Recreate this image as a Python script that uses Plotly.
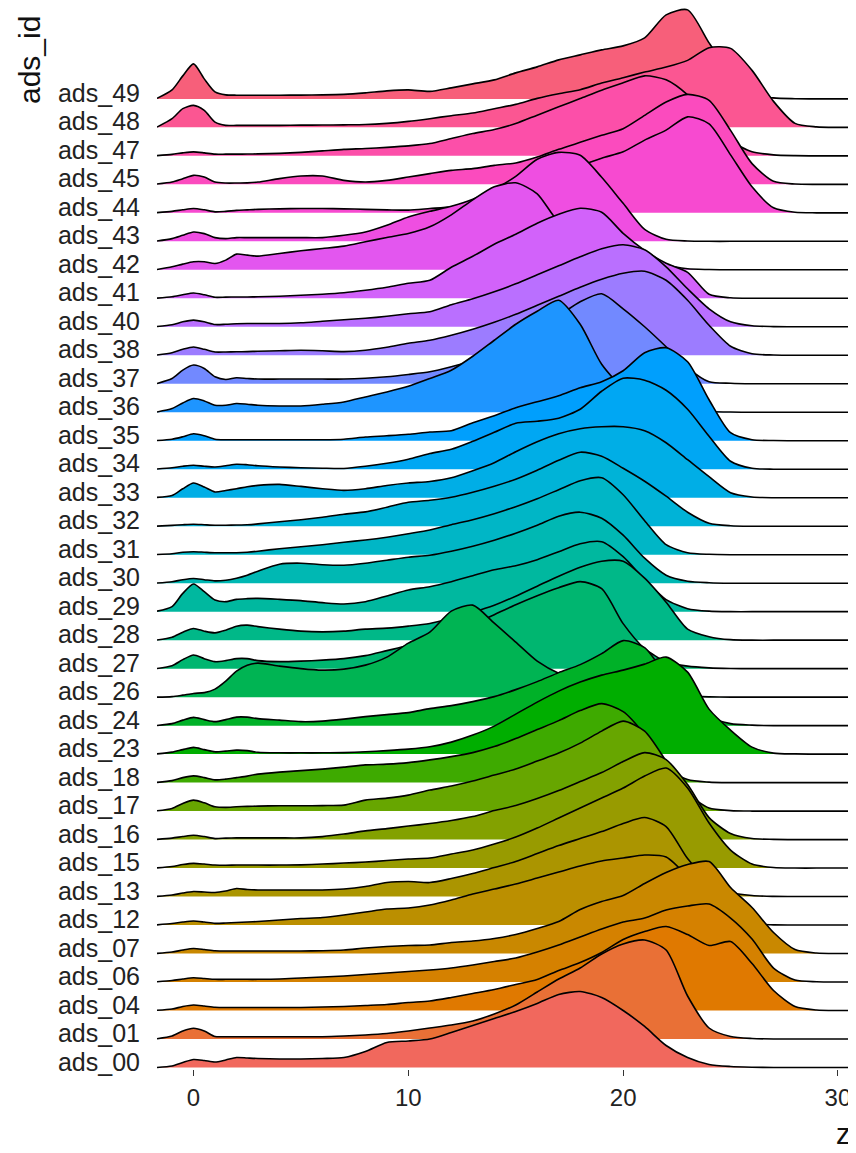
import math
import plotly.graph_objects as go

Z_GRID = [-1.7, -1, -0.5, 0, 0.5, 1, 1.5, 2, 2.5, 3,
          4, 5, 6, 7, 8, 9, 10, 11,
          12, 13, 14, 15, 16, 17, 18, 19, 20, 21, 22, 23, 24, 25, 26, 27, 28, 29, 30, 30.7]

CATEGORIES = ["ads_00", "ads_01", "ads_04", "ads_06", "ads_07", "ads_12", "ads_13", "ads_15",
              "ads_16", "ads_17", "ads_18", "ads_23", "ads_24", "ads_26", "ads_27", "ads_28",
              "ads_29", "ads_30", "ads_31", "ads_32", "ads_33", "ads_34", "ads_35", "ads_36",
              "ads_37", "ads_38", "ads_40", "ads_41", "ads_42", "ads_43", "ads_44", "ads_45",
              "ads_47", "ads_48", "ads_49"]

X_TICKS = [0, 10, 20, 30]

# ridge heights (density, scaled units) at Z_GRID
ADS_00 = [0, 1.5, 5, 8, 7, 5.5, 7.5, 10, 9.5, 9,
          8.5, 8.5, 9, 10, 16, 25, 26.5, 28.5,
          35, 42, 49, 56, 64, 73, 76, 70, 57, 41, 22, 10, 3, 1, 0.3, 0, 0, 0, 0, 0]
ADS_01 = [0.3, 3, 8, 10.7, 8, 2.5, 2.3, 2.3, 2.3, 2.3,
          2.3, 2.3, 2.3, 3, 4, 5.5, 8, 11,
          14, 18, 25, 34, 47, 60, 71, 85, 95, 99, 89, 43, 11, 2.5, 0.5, 0, 0, 0, 0, 0]
ADS_04 = [0.2, 1.5, 4, 5.5, 4.5, 3.3, 3, 3, 3, 3,
          3, 3, 3.5, 4, 5, 6, 8, 9.5,
          13, 17, 21, 26, 31, 40, 48, 58, 71, 79, 84, 76, 65, 69, 47, 20, 4, 0.5, 0, 0]
ADS_06 = [0.2, 1.5, 3, 4.3, 3.5, 2.7, 2.7, 2.7, 2.7, 2.7,
          3, 4, 5, 6, 7.5, 9, 10.5, 12,
          14, 17, 20.5, 24, 30, 37, 45, 53, 60, 64, 72, 76, 78, 64, 43, 14, 2, 0.3, 0, 0]
ADS_07 = [0.2, 1.5, 3.5, 5, 4, 2.8, 2.5, 2.5, 2.5, 2.5,
          2.5, 2.5, 2.8, 3.5, 5.5, 7, 8, 8.5,
          11, 12.5, 15, 19, 25, 32, 44, 52, 58, 70, 81, 89, 92, 66, 46, 21, 4, 0.5, 0, 0]
ADS_12 = [0.2, 1.5, 3, 4, 3, 1.7, 2, 2.5, 3, 3.5,
          5, 6.5, 7.5, 10, 13, 16, 17, 20,
          25, 31, 36, 41, 47, 53, 59, 64, 67, 70, 68, 48, 20, 5, 1, 0.2, 0, 0, 0, 0]
ADS_13 = [0.2, 1.5, 3.5, 5, 4.5, 4, 5.5, 8, 7, 6.6,
          6.6, 6.6, 6.6, 7.5, 10, 14, 15, 14,
          18, 23, 29, 35, 43, 51, 58, 65, 73, 79, 70, 38, 15, 4, 1, 0.2, 0, 0, 0, 0]
ADS_15 = [0.2, 1.5, 3.5, 4.7, 4, 3, 2.8, 3, 3, 3,
          3, 3.2, 4, 5, 6, 7.5, 9, 10,
          14, 18, 24, 31, 40, 50, 60, 70, 80, 92, 100, 80, 45, 18, 4, 0.5, 0, 0, 0, 0]
ADS_16 = [0.2, 1.5, 3, 4.3, 3, 1, 1.5, 1.7, 1.7, 1.7,
          1.7, 1.7, 3, 5.5, 8.7, 11, 13.5, 16,
          19, 23, 29, 34, 41, 49, 58, 67, 78, 87, 80, 55, 22, 6, 1, 0.2, 0, 0, 0, 0]
ADS_17 = [0.3, 2.7, 7.7, 11, 8.3, 4.3, 3.7, 4.3, 4.7, 5,
          5.3, 5.3, 5.5, 6, 11, 13, 16, 21,
          25, 30, 36, 42, 50, 58, 68, 80, 90, 80, 50, 18, 3, 0.5, 0, 0, 0, 0, 0, 0]
ADS_18 = [0.2, 2, 5, 6.7, 5, 2.7, 3.5, 5, 6.5, 8.5,
          10.5, 12, 13.5, 15.5, 17.7, 18.5, 20, 22.7,
          26, 30, 36, 44, 53, 62, 72, 79, 71, 48, 16, 3, 0.5, 0, 0, 0, 0, 0, 0, 0]
ADS_23 = [0.2, 2, 4.5, 6.7, 4.5, 2.3, 3, 4, 3.5, 1.8,
          1.3, 1.3, 1.3, 1.5, 2.3, 3.5, 5, 7.3,
          12, 19, 28, 40, 52, 63, 72, 79, 84, 90, 97, 82, 45, 24, 7, 1, 0.2, 0, 0, 0]
ADS_24 = [0.2, 2, 5.5, 8.3, 6, 4, 6, 8.5, 8.5, 7,
          5.5, 4, 4.5, 6.5, 9, 11, 13, 17,
          20, 24, 29, 36, 44, 53, 61, 72, 85, 78, 50, 25, 9, 2, 0.5, 0, 0, 0, 0, 0]
ADS_26 = [0, 0.5, 2, 3.7, 4.5, 8, 16, 26, 32, 34,
          31, 28.5, 27, 28, 32, 40, 54, 65,
          86, 92, 74, 55, 36, 24, 18, 14, 10, 6, 3, 1, 0.3, 0, 0, 0, 0, 0, 0, 0]
ADS_27 = [0.2, 3, 9, 13.7, 10, 7, 8, 10, 10, 8,
          7, 7.5, 8.5, 10, 13, 18, 23, 27,
          35, 44, 54, 64, 73, 81, 87, 80, 45, 20, 7, 2.5, 0.8, 0.2, 0, 0, 0, 0, 0, 0]
ADS_28 = [0.2, 3, 8, 11.7, 9, 7.3, 10, 14, 15, 13.5,
          11, 9, 8.3, 9, 11, 12, 14, 16.7,
          22, 28, 35, 44, 54, 64, 73, 79, 79, 62, 38, 11, 3.5, 0.5, 0, 0, 0, 0, 0, 0]
ADS_29 = [0.5, 5, 18.3, 27.7, 20, 11.7, 10, 12.3, 13, 13.3,
          12.3, 11, 9, 7.7, 10, 15.7, 21.7, 25,
          30, 36, 42, 46, 52, 60, 68, 70, 55, 32, 12, 3, 0.5, 0, 0, 0, 0, 0, 0, 0]
ADS_30 = [0.2, 1.5, 3.5, 4.7, 3.5, 2.3, 3, 5, 8, 12,
          19, 20, 18.5, 18, 20, 23, 26, 28,
          32, 37, 43, 50, 58, 67, 71, 65, 48, 25, 8, 2, 0.5, 0, 0, 0, 0, 0, 0, 0]
ADS_31 = [0.2, 1, 2.5, 3, 2.5, 2, 2, 2, 2.5, 3.5,
          6, 8, 10, 12.5, 14.7, 17.5, 21, 24.7,
          30, 35, 41, 48, 56, 65, 74, 77, 60, 34, 10, 2, 0.4, 0, 0, 0, 0, 0, 0, 0]
ADS_32 = [0.1, 0.8, 1.5, 2, 1.5, 1, 1, 1.2, 1.5, 2.3,
          4.5, 6.5, 9, 12, 14.3, 19, 24, 26,
          29, 34, 40, 47, 56, 66, 74, 70, 58, 45, 30, 14, 3, 0.5, 0, 0, 0, 0, 0, 0]
ADS_33 = [0.3, 2.3, 9, 14.7, 10.7, 5.7, 7.3, 9, 11, 12.3,
          13.3, 11.3, 9, 7.3, 9, 12.3, 14.7, 16.3,
          20, 27, 35, 46, 56, 64, 69, 71, 71, 67, 55, 38, 21, 5, 0.8, 0, 0, 0, 0, 0]
ADS_34 = [0.2, 1.5, 3, 4, 3, 2.3, 3.5, 5, 4.5, 3.5,
          2.3, 1.5, 1, 0.8, 3, 6, 10, 15.7,
          20, 28, 37, 46, 48, 51, 60, 78, 91, 89, 79, 60, 33, 8, 1, 0, 0, 0, 0, 0]
ADS_35 = [0.2, 1.5, 4, 7, 5, 1.5, 1, 1, 1, 1,
          1, 1, 1, 1.5, 3.7, 5, 6.5, 8.7,
          10, 18, 25, 33, 39, 45, 53, 59, 70, 88, 93, 79, 41, 8, 1, 0.2, 0, 0, 0, 0]
ADS_36 = [0.3, 3.7, 9.3, 13.7, 11.3, 7, 7, 8.7, 8, 7,
          6.3, 6.3, 8, 10.3, 15.3, 20.3, 26, 33.7,
          42, 56, 72, 88, 101, 112, 88, 48, 24, 12, 6, 2.5, 0.8, 0.2, 0, 0, 0, 0, 0, 0]
ADS_37 = [0.3, 5.3, 13.7, 18.7, 15.3, 7, 4.3, 6, 5.3, 4.7,
          4.7, 4.7, 4.7, 4.7, 5.5, 7, 9.3, 12,
          17, 23, 32, 42, 55, 68, 82, 90, 75, 57, 37, 16, 2, 0.5, 0, 0, 0, 0, 0, 0]
ADS_38 = [0.3, 2.5, 6, 8.3, 6, 3.3, 3.3, 3.5, 3.7, 4,
          4.5, 5, 4.5, 3.7, 5, 8, 12, 15,
          20, 26, 33, 41, 50, 59, 68, 76, 82, 84, 75, 55, 30, 9, 1.5, 0.3, 0, 0, 0, 0]
ADS_40 = [0.3, 2, 5, 6.7, 5, 2.3, 2.5, 3, 3.3, 3.3,
          3.3, 4, 5.5, 7, 8.5, 10.5, 13, 15,
          22, 28, 35, 43, 52, 61, 70, 78, 82, 77, 60, 38, 18, 5, 1, 0.2, 0, 0, 0, 0]
ADS_41 = [0.2, 1.5, 3.5, 5.3, 3.5, 1, 1.2, 1.3, 1.3, 1.5,
          2, 3, 4, 5.5, 8, 11, 15, 18,
          31, 42, 54, 64, 75, 84, 90, 86, 65, 48, 35, 26, 4, 0.5, 0, 0, 0, 0, 0, 0]
ADS_42 = [0.3, 3, 5.7, 8, 8, 6.3, 9.7, 15.7, 14.7, 13.7,
          16.3, 19, 21.3, 23.7, 28, 32.3, 36.3, 43,
          55, 70, 83, 87, 76, 48, 40, 33, 26, 14, 5, 1, 0.3, 0, 0, 0, 0, 0, 0, 0]
ADS_43 = [0.3, 2.7, 6, 9.3, 7.7, 3.7, 2.7, 3.7, 3.7, 3.7,
          3.7, 3.7, 3.7, 6, 9.3, 16, 24.3, 30,
          35, 42, 52, 65, 82, 89, 86, 64, 38, 12, 2, 0.3, 0, 0, 0, 0, 0, 0, 0, 0]
ADS_44 = [0.2, 1.5, 3, 4.3, 3, 1, 1.5, 2.5, 3, 3.5,
          4, 4.3, 4.3, 4, 3.5, 3, 2.7, 4.3,
          6, 9, 14, 20, 28, 38, 47, 54.7, 61, 72.7, 82.7, 96, 89, 58, 26, 5, 0.5, 0, 0, 0]
ADS_45 = [0.3, 2.3, 5.7, 9, 7.3, 2.3, 1.3, 1.3, 1.5, 2.3,
          5.7, 8.3, 8.3, 4, 2.3, 4, 7.3, 10.7,
          14, 15.7, 19, 21.3, 27.3, 35, 42, 49, 55.7, 69, 82.3, 90, 84, 54, 20.7, 3, 0.3, 0, 0, 0]
ADS_47 = [0.2, 1.5, 3, 4, 3, 1.7, 1.7, 1.7, 1.8, 2,
          2.5, 3.5, 5, 6.5, 7.3, 8.5, 10, 12.3,
          17.3, 22.3, 26.3, 32.3, 40.7, 49, 57.3, 65.7, 73, 80, 76, 61, 38, 15, 4, 1, 0.2, 0, 0, 0]
ADS_48 = [0.3, 8.7, 18.7, 22, 17, 5.3, 2, 2, 2, 2,
          2, 2.2, 2.3, 2.5, 2.8, 4, 6, 8.7,
          11.7, 14.3, 18.7, 23, 29, 33.7, 37.7, 44.3, 49.7, 55.3, 60.3, 67, 79.7, 79, 57, 26, 4, 0.5, 0, 0]
ADS_49 = [0.5, 9, 23, 35, 20, 7, 4, 3.7, 3.7, 3.7,
          3.7, 3.8, 4, 4.5, 6, 8, 9, 7.5,
          11, 15, 19, 26, 32, 39, 44, 49, 53, 61, 84, 89, 56, 26, 5, 1, 0.2, 0, 0, 0]

DENSITIES = [ADS_00, ADS_01, ADS_04, ADS_06, ADS_07, ADS_12, ADS_13, ADS_15, ADS_16, ADS_17,
             ADS_18, ADS_23, ADS_24, ADS_26, ADS_27, ADS_28, ADS_29, ADS_30, ADS_31, ADS_32,
             ADS_33, ADS_34, ADS_35, ADS_36, ADS_37, ADS_38, ADS_40, ADS_41, ADS_42, ADS_43,
             ADS_44, ADS_45, ADS_47, ADS_48, ADS_49]

HEIGHT_PER_ROW = 28.49  # density units per one row of spacing


def hcl_hex(h, c=100.0, l=65.0):
    """hue palette colour (polar LUV -> sRGB)."""
    hr = math.radians(h)
    U, V = c * math.cos(hr), c * math.sin(hr)
    Xn, Yn, Zn = 95.047, 100.0, 108.883
    Y = Yn * ((l + 16) / 116) ** 3 if l > 8 else Yn * l / 903.3
    den = Xn + 15 * Yn + 3 * Zn
    un, vn = 4 * Xn / den, 9 * Yn / den
    u = U / (13 * l) + un
    v = V / (13 * l) + vn
    X = 9.0 * Y * u / (4 * v)
    Z = -X / 3 - 5 * Y + 3 * Y / v
    x, y, z = X / 100, Y / 100, Z / 100
    rgb = [3.240479 * x - 1.537150 * y - 0.498535 * z,
           -0.969256 * x + 1.875992 * y + 0.041556 * z,
           0.055648 * x - 0.204043 * y + 1.057311 * z]
    out = []
    for ch in rgb:
        ch = max(ch, 0)
        ch = 12.92 * ch if ch <= 0.0031308 else 1.055 * ch ** (1 / 2.4) - 0.055
        out.append(int(round(min(max(ch, 0), 1) * 255)))
    return "#%02X%02X%02X" % tuple(out)


n = len(CATEGORIES)
colors = [hcl_hex(15 + 360.0 * i / n, c=108, l=61) for i in range(n)]

fig = go.Figure()
x0, x1 = Z_GRID[0], Z_GRID[-1]
# draw from the top ridge down so lower ridges overlap upper ones
for i in range(n - 1, -1, -1):
    dens = DENSITIES[i]
    yy = [i + d / HEIGHT_PER_ROW for d in dens]
    fig.add_trace(go.Scatter(x=[x0, x1], y=[i, i], mode="lines",
                             line=dict(width=0, color="rgba(0,0,0,0)"),
                             hoverinfo="skip", showlegend=False))
    fig.add_trace(go.Scatter(x=Z_GRID, y=yy, mode="lines", fill="tonexty",
                             fillcolor=colors[i],
                             line=dict(color="black", width=1.6, shape="spline", smoothing=0.7),
                             name=CATEGORIES[i], showlegend=False))

# page body has an 8px margin, so the figure is sized/placed to compensate
fig.update_layout(
    width=848, height=1145,
    margin=dict(l=149, r=3, t=0, b=84),
    plot_bgcolor="white", paper_bgcolor="white",
    font=dict(family="Liberation Sans, Arial, sans-serif", color="#222222"),
    showlegend=False,
)
fig.update_xaxes(range=[-1.7, 30.7], tickvals=X_TICKS, ticktext=[str(t) for t in X_TICKS],
                 ticks="outside", ticklen=6, tickwidth=1.1, tickcolor="#333333",
                 showgrid=False, zeroline=False, showline=False, automargin=False,
                 tickfont=dict(size=24, color="#222222"), ticklabelstandoff=1)
fig.update_yaxes(range=[-0.053, 37.19], tickvals=[i + 0.2 for i in range(n)], ticktext=CATEGORIES,
                 ticks="", showgrid=False, zeroline=False, showline=False, automargin=False,
                 tickfont=dict(size=25, color="#222222"), ticklabelstandoff=16)

fig.add_annotation(text="ads_id", xref="paper", yref="paper", x=-0.1839, y=0.9943,
                   xanchor="center", yanchor="top", textangle=-90, showarrow=False,
                   font=dict(size=30, color="#111111"))
fig.add_annotation(text="z", xref="paper", yref="paper", x=1.0, y=-0.0782,
                   xanchor="right", yanchor="bottom", showarrow=False,
                   font=dict(size=29, color="#111111"))

fig.write_html("out.html")
